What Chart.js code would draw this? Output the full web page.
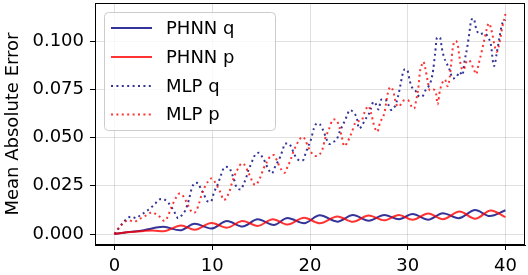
<!DOCTYPE html>
<html>
<head>
<meta charset="utf-8">
<script src="https://cdn.jsdelivr.net/npm/chart.js@4/dist/chart.umd.min.js"></script>
<style>
    html, body { margin: 0; padding: 0; background: #fff; }
    #wrap { width: 528px; height: 275px; }
</style>
</head>
<body>
<div id="wrap"><canvas id="canvas1" width="528" height="275"></canvas></div>
<script>
'use strict';

let xTicks = [0, 10, 20, 30, 40];
let yTicks = [0, 0.025, 0.05, 0.075, 0.1];
let seriesNames = ['PHNN q', 'PHNN p', 'MLP q', 'MLP p'];

let phnnQx = [0, 1, 2, 3, 5.0, 6.7, 8.2, 9.9, 11.5, 13.1, 14.65, 16.3, 17.7, 19.4, 21.0, 22.8, 24.4, 26.0, 27.6, 29.1, 30.5, 32.1, 33.6, 35.2, 36.9, 38.4, 40];
let phnnQy = [0, 0.0007, 0.0013, 0.0020, 0.0037, 0.0019, 0.0053, 0.0028, 0.0067, 0.0039, 0.0076, 0.0047, 0.0083, 0.0056, 0.0097, 0.0064, 0.0098, 0.0069, 0.0099, 0.0076, 0.0103, 0.0074, 0.0108, 0.0082, 0.0124, 0.0093, 0.0123];

let phnnPx = [0, 1, 2, 3, 3.9, 5.0, 6.8, 8.2, 9.9, 11.5, 13.1, 14.65, 16.2, 17.7, 19.4, 21.0, 22.8, 24.4, 26.0, 27.6, 29.1, 30.5, 32.1, 33.6, 35.3, 36.9, 38.5, 40];
let phnnPy = [0, 0.0008, 0.0012, 0.0016, 0.0018, 0.0014, 0.0044, 0.0022, 0.0057, 0.0033, 0.0068, 0.0042, 0.0077, 0.0049, 0.0084, 0.0056, 0.0091, 0.0063, 0.0096, 0.0071, 0.0099, 0.0074, 0.0106, 0.0077, 0.0116, 0.0079, 0.0122, 0.0087];

let mlpQx = [0, 0.45, 0.8, 1.3, 1.75, 2.2, 2.65, 3.2, 3.7, 4.2, 4.75, 5.2, 5.55, 5.9, 6.2, 6.5, 6.9, 7.25, 7.6, 7.9,
    8.3, 8.55, 8.8, 9.1, 9.5, 9.85, 10.2, 10.6, 10.85, 11.3, 11.7, 12.0, 12.25, 12.5, 12.95, 13.2, 13.45, 13.7, 14.0, 14.2,
    14.5, 14.8, 15.1, 15.4, 15.7, 16.1, 16.4, 16.7, 16.95, 17.2, 17.45, 17.8, 18.1, 18.35, 18.65, 19.0, 19.3, 19.55, 19.8, 20.1,
    20.4, 20.7, 21.0, 21.3, 21.5, 21.7, 22.0, 22.4, 22.7, 23.1, 23.6, 23.8, 24.05, 24.5, 24.8, 25.0, 25.3, 25.6, 26.0, 26.2,
    26.5, 26.8, 27.0, 27.3, 27.7, 28.0, 28.3, 28.7, 29.0, 29.25, 29.45, 29.7, 30.0, 30.2, 30.5, 30.9, 31.2, 31.6, 31.85, 32.2,
    32.4, 32.6, 32.8, 33.0, 33.3, 33.5, 33.7, 34.0, 34.3, 34.6, 35.0, 35.3, 35.6, 35.8, 36.1, 36.3, 36.5, 36.75, 37.0, 37.3,
    37.8, 38.3, 38.55, 38.7, 38.85, 39.1, 39.4, 39.6, 39.85, 40];
let mlpQy = [0, 0.0030, 0.0055, 0.0081, 0.0090, 0.0082, 0.0098, 0.0116, 0.0135, 0.0160, 0.0182, 0.0176, 0.0159, 0.0133, 0.0107, 0.0082, 0.0098, 0.0124, 0.0176, 0.0237,
    0.0266, 0.0264, 0.0237, 0.0210, 0.0170, 0.0168, 0.0219, 0.0262, 0.0300, 0.0348, 0.0345, 0.0314, 0.0279, 0.0240, 0.0231, 0.0259, 0.0288, 0.0331, 0.0366, 0.0392,
    0.0418, 0.0421, 0.0400, 0.0374, 0.0340, 0.0314, 0.0345, 0.0374, 0.0400, 0.0435, 0.0469, 0.0469, 0.0449, 0.0418, 0.0392, 0.0380, 0.0383, 0.0418, 0.0452, 0.0490,
    0.0547, 0.0573, 0.0569, 0.0542, 0.0518, 0.0490, 0.0466, 0.0478, 0.0487, 0.0538, 0.0590, 0.0616, 0.0642, 0.0628, 0.0599, 0.0547, 0.0559, 0.0590, 0.0620, 0.0645,
    0.0685, 0.0668, 0.0645, 0.0697, 0.0697, 0.0672, 0.0643, 0.0663, 0.0711, 0.0771, 0.0823, 0.0854, 0.0844, 0.0795, 0.0754, 0.0737, 0.0711, 0.0719, 0.0749, 0.0770,
    0.0797, 0.0849, 0.0935, 0.1018, 0.1018, 0.0961, 0.0918, 0.0883, 0.0849, 0.0806, 0.0814, 0.0840, 0.0823, 0.0892, 0.0970, 0.1039, 0.1108, 0.1117, 0.1065, 0.1037,
    0.1039, 0.1013, 0.0970, 0.0900, 0.0870, 0.0935, 0.1021, 0.1078, 0.1106, 0.1110];

let mlpPx = [0, 0.4, 1.1, 1.45, 1.95, 2.4, 2.8, 3.3, 3.8, 4.4, 4.8, 5.1, 5.45, 5.7, 6.0, 6.35, 6.65, 6.95, 7.3, 7.55,
    7.8, 8.15, 8.4, 8.65, 8.9, 9.25, 9.6, 9.9, 10.2, 10.55, 10.8, 11.2, 11.5, 11.75, 12.0, 12.3, 12.7, 13.0, 13.4, 13.65,
    13.9, 14.1, 14.4, 14.7, 15.0, 15.25, 15.6, 15.9, 16.3, 16.6, 16.85, 17.1, 17.4, 17.7, 18.0, 18.3, 18.6, 18.9, 19.2, 19.5,
    19.8, 20.2, 20.6, 21.0, 21.3, 21.55, 21.9, 22.4, 22.7, 23.0, 23.25, 23.5, 23.75, 24.3, 24.6, 24.95, 25.3, 25.6, 26.0, 26.25,
    26.6, 26.9, 27.15, 27.6, 28.0, 28.25, 28.55, 28.8, 29.1, 29.5, 30.0, 30.4, 30.65, 30.9, 31.1, 31.25, 31.45, 31.6, 31.8, 32.05,
    32.25, 32.6, 32.9, 33.05, 33.3, 33.8, 34.1, 34.3, 34.45, 34.6, 34.85, 35.1, 35.25, 35.45, 35.7, 36.0, 36.25, 36.8, 37.0, 37.25,
    37.6, 37.9, 38.1, 38.3, 38.5, 38.65, 38.85, 39.1, 39.3, 39.5, 39.7, 40];
let mlpPy = [0, 0.0030, 0.0064, 0.0072, 0.0064, 0.0072, 0.0085, 0.0098, 0.0112, 0.0098, 0.0081, 0.0067, 0.0090, 0.0124, 0.0159, 0.0193, 0.0210, 0.0202, 0.0172, 0.0145,
    0.0121, 0.0110, 0.0124, 0.0159, 0.0202, 0.0245, 0.0274, 0.0288, 0.0274, 0.0245, 0.0219, 0.0176, 0.0193, 0.0219, 0.0262, 0.0305, 0.0345, 0.0366, 0.0352, 0.0322,
    0.0297, 0.0271, 0.0254, 0.0271, 0.0305, 0.0340, 0.0374, 0.0400, 0.0409, 0.0383, 0.0352, 0.0331, 0.0317, 0.0348, 0.0383, 0.0426, 0.0461, 0.0487, 0.0504, 0.0490,
    0.0452, 0.0418, 0.0404, 0.0414, 0.0443, 0.0495, 0.0538, 0.0594, 0.0590, 0.0555, 0.0504, 0.0455, 0.0469, 0.0530, 0.0573, 0.0585, 0.0590, 0.0633, 0.0663, 0.0625,
    0.0555, 0.0530, 0.0575, 0.0625, 0.0737, 0.0762, 0.0735, 0.0676, 0.0660, 0.0690, 0.0694, 0.0660, 0.0650, 0.0702, 0.0765, 0.0840, 0.0878, 0.0893, 0.0858, 0.0790,
    0.0745, 0.0749, 0.0728, 0.0672, 0.0745, 0.0800, 0.0765, 0.0814, 0.0883, 0.0961, 0.1000, 0.0987, 0.0932, 0.0870, 0.0850, 0.0892, 0.0900, 0.0849, 0.0828, 0.0880,
    0.0952, 0.1021, 0.1065, 0.1092, 0.1070, 0.1039, 0.0985, 0.0944, 0.0970, 0.1021, 0.1078, 0.1140];

let blue = 'rgba(0, 0, 128, 0.8)';
let red = 'rgba(255, 0, 0, 0.8)';
let fontName = "'DejaVu Sans', sans-serif";

function pts(xs, ys) {
    return xs.map((x, i) => ({ x: x, y: ys[i] }));
}

let datasets = [
    { label: seriesNames[0], data: pts(phnnQx, phnnQy), borderColor: blue, borderWidth: 2, borderDash: [], order: 4 },
    { label: seriesNames[1], data: pts(phnnPx, phnnPy), borderColor: red, borderWidth: 2, borderDash: [], order: 3 },
    { label: seriesNames[2], data: pts(mlpQx, mlpQy), borderColor: blue, borderWidth: 2, borderDash: [2, 3.4], order: 2 },
    { label: seriesNames[3], data: pts(mlpPx, mlpPy), borderColor: red, borderWidth: 2, borderDash: [2, 3.4], order: 1 },
];
datasets.forEach(d => {
    d.pointRadius = 0;
    d.fill = false;
    d.cubicInterpolationMode = 'monotone';
});

let framePlugin = {
    id: 'frame',
    afterDraw(chart) {
        let ctx = chart.ctx;
        let a = chart.chartArea;
        ctx.save();

        // spines
        ctx.strokeStyle = '#000';
        ctx.lineWidth = 1;
        ctx.strokeRect(a.left + 0.5, a.top + 0.5, a.right - a.left - 1, a.bottom - a.top - 1);

        // y title
        ctx.fillStyle = '#000';
        ctx.font = '18px ' + fontName;
        ctx.textAlign = 'center';
        ctx.textBaseline = 'middle';
        ctx.translate(13, (a.top + a.bottom) / 2);
        ctx.rotate(-Math.PI / 2);
        ctx.fillText('Mean Absolute Error', 0, 0);
        ctx.restore();

        // legend
        ctx.save();
        let bx = 104.5, by = 12.5, bw = 171, bh = 118, r = 4;
        ctx.beginPath();
        ctx.moveTo(bx + r, by);
        ctx.arcTo(bx + bw, by, bx + bw, by + bh, r);
        ctx.arcTo(bx + bw, by + bh, bx, by + bh, r);
        ctx.arcTo(bx, by + bh, bx, by, r);
        ctx.arcTo(bx, by, bx + bw, by, r);
        ctx.closePath();
        ctx.fillStyle = 'rgba(255,255,255,0.8)';
        ctx.fill();
        ctx.strokeStyle = '#cccccc';
        ctx.lineWidth = 1;
        ctx.stroke();

        let rows = [28, 57, 86, 114.5];
        chart.data.datasets.forEach((d, i) => {
            ctx.beginPath();
            ctx.setLineDash(d.borderDash);
            ctx.strokeStyle = d.borderColor;
            ctx.lineWidth = d.borderWidth;
            ctx.moveTo(111, rows[i]);
            ctx.lineTo(152, rows[i]);
            ctx.stroke();
            ctx.setLineDash([]);
            ctx.fillStyle = '#000';
            ctx.font = '18px ' + fontName;
            ctx.textAlign = 'left';
            ctx.textBaseline = 'middle';
            ctx.fillText(d.label, 166, rows[i] + 1);
        });
        ctx.restore();
    }
};

let canvas1 = document.querySelector('#canvas1');
let chart1 = new Chart(canvas1, {
    type: 'line',
    data: { datasets: datasets },
    options: {
        responsive: false,
        animation: false,
        devicePixelRatio: 1,
        layout: { padding: { top: 3, right: 3, left: 0, bottom: 0 } },
        plugins: { legend: { display: false }, tooltip: { enabled: false } },
        scales: {
            x: {
                type: 'linear',
                min: -2,
                max: 42,
                afterBuildTicks: s => { s.ticks = xTicks.map(v => ({ value: v })); },
                afterFit: s => { s.height = 30; s.paddingLeft = 0; s.paddingRight = 0; },
                grid: { color: 'rgba(0,0,0,0.12)', tickColor: '#000', tickLength: 5, lineWidth: 1 },
                border: { display: true, color: '#000', width: 1 },
                ticks: {
                    color: '#000',
                    padding: 6,
                    maxRotation: 0,
                    font: { family: fontName, size: 18 },
                    callback: v => String(v),
                },
            },
            y: {
                type: 'linear',
                min: -0.0057,
                max: 0.1197,
                afterBuildTicks: s => { s.ticks = yTicks.map(v => ({ value: v })); },
                afterFit: s => { s.width = 95; s.paddingTop = 0; s.paddingBottom = 0; },
                grid: { color: 'rgba(0,0,0,0.12)', tickColor: '#000', tickLength: 5, lineWidth: 1 },
                border: { display: true, color: '#000', width: 1 },
                ticks: {
                    color: '#000',
                    padding: 6,
                    font: { family: fontName, size: 18 },
                    callback: v => v.toFixed(3),
                },
            },
        },
    },
    plugins: [framePlugin],
});
</script>
</body>
</html>
